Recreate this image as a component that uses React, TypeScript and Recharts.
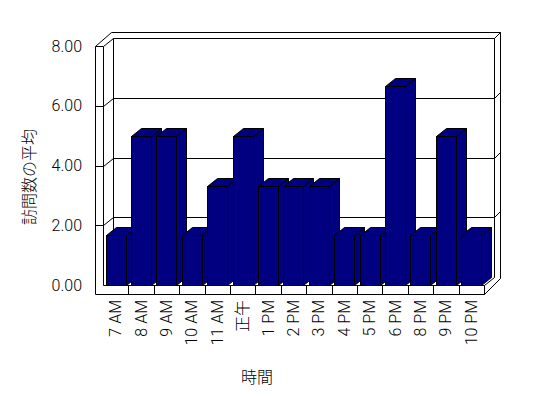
import { BarChart, Bar, XAxis, YAxis, CartesianGrid } from 'recharts';

const hours = ['7 AM', '8 AM', '9 AM', '10 AM', '11 AM', '正午', '1 PM', '2 PM', '3 PM', '4 PM', '5 PM', '6 PM', '8 PM', '9 PM', '10 PM'];
const visits = [1.67, 5, 5, 1.67, 3.33, 5, 3.33, 3.33, 3.33, 1.67, 1.67, 6.67, 1.67, 5, 1.67];
const yTicks = [0, 2, 4, 6, 8];

const data = hours.map((hour, i) => ({ hour, visits: visits[i] }));

// layout of the 3d box (page px)
const W = 548;
const H = 398;
const LEFT = 103;
const RIGHT = 484;
const TOP = 46;
const BOTTOM = 285;
const WALL = 8;
const FLOOR = 9;
const DX = 10;
const DY = -8;
const BAND = (RIGHT - LEFT) / hours.length;
const NAVY = '#000080';
const FONT = 'Roboto, "Liberation Sans", "Noto Sans CJK JP", sans-serif';

const px = (v: number) => Math.round(v) + 0.5;

function Bar3D(props: any) {
  const { x, y, width, height } = props;
  if (!height) return null;
  const l = px(x);
  const r = px(x + width);
  const t = px(y);
  const b = px(y + height);
  return (
    <g stroke="#000" strokeWidth={1} fill={NAVY}>
      <polygon points={`${r},${t} ${r + DX},${t + DY} ${r + DX},${b + DY} ${r},${b}`} />
      <polygon points={`${l},${t} ${l + DX},${t + DY} ${r + DX},${t + DY} ${r},${t}`} />
      <rect x={l} y={t} width={r - l} height={b - t} />
    </g>
  );
}

function GridLine(props: any) {
  const { y1 } = props;
  if (Math.abs(y1 - TOP) < 1 || Math.abs(y1 - BOTTOM) < 1) return <g />;
  const y = px(y1);
  const pts = [
    [LEFT - WALL, y],
    [LEFT, y],
    [LEFT + DX, y + DY],
    [RIGHT + DX, y + DY],
    [RIGHT + DX + 6, y + DY - 6],
  ].map((p) => `${px(p[0])},${p[1]}`).join(' ');
  return <polyline points={pts} fill="none" stroke="#000" strokeWidth={1} />;
}

function HourTick(props: any) {
  const { x, y, payload, index } = props;
  const edge = px(x - BAND / 2);
  return (
    <g>
      {index > 0 && <line x1={edge} y1={y} x2={edge} y2={y + FLOOR} stroke="#000" />}
      <text
        x={x}
        y={y + 15}
        transform={`rotate(-90, ${x}, ${y + 15})`}
        textAnchor="end"
        dominantBaseline="central"
        fontSize={16}
        fontWeight={300}
        fill="#000"
      >
        {payload.value}
      </text>
    </g>
  );
}

function Box() {
  const l0 = px(LEFT - WALL);
  const l1 = px(LEFT);
  const r0 = px(RIGHT);
  const r1 = px(RIGHT + DX);
  const r2 = px(RIGHT + DX + 6);
  const t0 = px(TOP);
  const t1 = px(TOP + DY);
  const t2 = px(TOP - 14);
  const b0 = px(BOTTOM);
  const b1 = px(BOTTOM + FLOOR);
  const d = [
    `M${l0},${t0} L${l0},${b1} L${r0},${b1} L${r2},${px(BOTTOM - 7)} L${r2},${t2} L${px(LEFT + 8)},${t2} Z`,
    `M${l0},${t0} L${l1},${t0}`,
    `M${l1},${t0} L${l1},${b0} L${r0},${b0} L${r0},${b1}`,
    `M${r0},${b0} L${r1},${px(BOTTOM + DY)} L${r1},${t1} L${px(LEFT + DX)},${t1} L${l1},${t0}`,
    `M${px(LEFT + DX)},${t1} L${px(LEFT + DX)},${px(BOTTOM + DY)}`,
    `M${r1},${t1} L${r2},${t2}`,
  ].join(' ');
  return (
    <svg width={W} height={H} style={{ position: 'absolute', left: 0, top: 0 }}>
      <path d={d} fill="none" stroke="#000" strokeWidth={1} />
      <text x={29} y={177} transform="rotate(-90, 29, 177)" textAnchor="middle" dominantBaseline="central" fontSize={16} fontWeight={300} fill="#000">
        訪問数の平均
      </text>
      <text x={257} y={377} textAnchor="middle" dominantBaseline="central" fontSize={16} fontWeight={300} fill="#000">
        時間
      </text>
    </svg>
  );
}

export default function App() {
  return (
    <div style={{ position: 'absolute', left: 0, top: 0, width: W, height: H, background: '#fff', fontFamily: FONT }}>
      <Box />
      <div style={{ position: 'absolute', left: 0, top: 0 }}>
        <BarChart
          width={W}
          height={H}
          data={data}
          margin={{ top: TOP, right: W - RIGHT, bottom: H - BOTTOM - 70, left: LEFT - 60 }}
          barCategoryGap="10%"
        >
          <CartesianGrid vertical={false} horizontal={(p: any) => <GridLine {...p} />} />
          <XAxis
            dataKey="hour"
            axisLine={false}
            tickLine={false}
            tickSize={0}
            tickMargin={0}
            height={70}
            interval={0}
            tick={<HourTick />}
          />
          <YAxis
            domain={[0, 8]}
            ticks={yTicks}
            interval={0}
            axisLine={false}
            tickLine={false}
            tickSize={0}
            tickMargin={21}
            width={60}
            tickFormatter={(v: number) => v.toFixed(2)}
            tick={{ fill: '#000', fontSize: 16, fontWeight: 300 }}
          />
          <Bar dataKey="visits" shape={<Bar3D />} isAnimationActive={false} />
        </BarChart>
      </div>
    </div>
  );
}
